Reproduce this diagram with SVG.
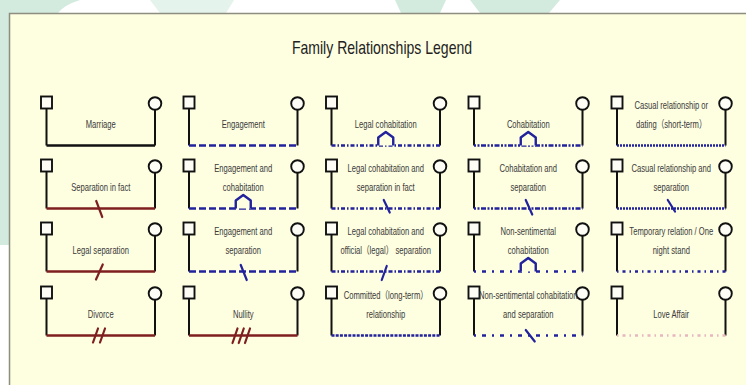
<svg xmlns="http://www.w3.org/2000/svg" width="746" height="385" viewBox="0 0 746 385">
<style>
.sq{fill:#fdfdf6;stroke:#111;stroke-width:1.9}
.v{fill:none;stroke:#111;stroke-width:2}
.h{fill:none;stroke-width:2.6}
.blk{stroke:#111}
.red{stroke:#7e1e1e}
.blue{stroke:#22229c}
.pink{stroke:#e8b6c0}
.mk{fill:none;stroke-width:2.2;stroke-linecap:round}
.house{fill:#fefee1;stroke:#22229c;stroke-width:2.4;stroke-linejoin:round}
.d1{stroke-dasharray:7 3}
.d2{stroke-dasharray:4 2 1.5 2}
.d3{stroke-dasharray:3 1.2}
.d4{stroke-dasharray:2 1.5 2 1.5 5 1.5}
.d5{stroke-dasharray:2 6 4 6}
.d6{stroke-dasharray:2 1}
.d7{stroke-dasharray:1.5 4 3 4}
.lbl{font-family:"Liberation Sans","Noto Sans CJK SC",Arial,sans-serif;font-size:10.3px;fill:#3a3a3a;text-anchor:middle}
.title{font-family:"Liberation Sans",Arial,sans-serif;font-size:18px;fill:#222;text-anchor:middle}
</style>
<rect width="746" height="385" fill="#ffffff"/>
<g id="watermark" fill="#d3ebdf">
<path d="M0,0 H80 Q64,5 58,13 H10 V245 H0 Z"/>
<path d="M150,0 H234 L226,13 H160 Z" fill="#e4f3eb"/>
<path d="M395,0 H446 L440,13 H401 Z"/>
<path d="M470,0 H560 L549,13 H480 Z"/>
</g>
<rect id="panel" x="9.5" y="13.5" width="760" height="400" fill="#fefee1" stroke="#8d8d80" stroke-width="1.5"/>
<text class="title" transform="translate(382,54) scale(0.78,1)">Family Relationships Legend</text>

<g id="nodes">
<g id="marriage"><rect class="sq" x="41" y="96.5" width="11" height="12"/><circle class="sq" cx="155" cy="103.5" r="6.3"/><text class="lbl" transform="translate(100.75,128) scale(0.74,1)">Marriage</text></g>
<g id="separation-in-fact"><rect class="sq" x="41" y="159.5" width="11" height="12"/><circle class="sq" cx="155" cy="166.5" r="6.3"/><text class="lbl" transform="translate(100.75,191) scale(0.74,1)">Separation in fact</text></g>
<g id="legal-separation"><rect class="sq" x="41" y="222.5" width="11" height="12"/><circle class="sq" cx="155" cy="229.5" r="6.3"/><text class="lbl" transform="translate(100.75,254) scale(0.74,1)">Legal separation</text></g>
<g id="divorce"><rect class="sq" x="41" y="286.5" width="11" height="12"/><circle class="sq" cx="155" cy="293.5" r="6.3"/><text class="lbl" transform="translate(100.75,318) scale(0.74,1)">Divorce</text></g>

<g id="engagement"><rect class="sq" x="183.5" y="96.5" width="11" height="12"/><circle class="sq" cx="297.5" cy="103.5" r="6.3"/><text class="lbl" transform="translate(243.25,128) scale(0.74,1)">Engagement</text></g>
<g id="engagement-cohabitation"><rect class="sq" x="183.5" y="159.5" width="11" height="12"/><circle class="sq" cx="297.5" cy="166.5" r="6.3"/><text class="lbl" transform="translate(243.25,171.5) scale(0.74,1)">Engagement and</text><text class="lbl" transform="translate(243.25,191) scale(0.74,1)">cohabitation</text></g>
<g id="engagement-separation"><rect class="sq" x="183.5" y="222.5" width="11" height="12"/><circle class="sq" cx="297.5" cy="229.5" r="6.3"/><text class="lbl" transform="translate(243.25,234.5) scale(0.74,1)">Engagement and</text><text class="lbl" transform="translate(243.25,254) scale(0.74,1)">separation</text></g>
<g id="nullity"><rect class="sq" x="183.5" y="286.5" width="11" height="12"/><circle class="sq" cx="297.5" cy="293.5" r="6.3"/><text class="lbl" transform="translate(243.25,318) scale(0.74,1)">Nullity</text></g>

<g id="legal-cohabitation"><rect class="sq" x="326" y="96.5" width="11" height="12"/><circle class="sq" cx="440" cy="103.5" r="6.3"/><text class="lbl" transform="translate(385.75,128) scale(0.74,1)">Legal cohabitation</text></g>
<g id="legal-cohabitation-separation-fact"><rect class="sq" x="326" y="159.5" width="11" height="12"/><circle class="sq" cx="440" cy="166.5" r="6.3"/><text class="lbl" transform="translate(385.75,171.5) scale(0.74,1)">Legal cohabitation and</text><text class="lbl" transform="translate(385.75,191) scale(0.74,1)">separation in fact</text></g>
<g id="legal-cohabitation-official-separation"><rect class="sq" x="326" y="222.5" width="11" height="12"/><circle class="sq" cx="440" cy="229.5" r="6.3"/><text class="lbl" transform="translate(385.75,234.5) scale(0.74,1)">Legal cohabitation and</text><text class="lbl" transform="translate(385.75,254) scale(0.74,1)">official（legal） separation</text></g>
<g id="committed"><rect class="sq" x="326" y="286.5" width="11" height="12"/><circle class="sq" cx="440" cy="293.5" r="6.3"/><text class="lbl" transform="translate(385.75,298.5) scale(0.74,1)">Committed（long-term）</text><text class="lbl" transform="translate(385.75,318) scale(0.74,1)">relationship</text></g>

<g id="cohabitation"><rect class="sq" x="468.5" y="96.5" width="11" height="12"/><circle class="sq" cx="582.5" cy="103.5" r="6.3"/><text class="lbl" transform="translate(528.25,128) scale(0.74,1)">Cohabitation</text></g>
<g id="cohabitation-separation"><rect class="sq" x="468.5" y="159.5" width="11" height="12"/><circle class="sq" cx="582.5" cy="166.5" r="6.3"/><text class="lbl" transform="translate(528.25,171.5) scale(0.74,1)">Cohabitation and</text><text class="lbl" transform="translate(528.25,191) scale(0.74,1)">separation</text></g>
<g id="non-sentimental-cohabitation"><rect class="sq" x="468.5" y="222.5" width="11" height="12"/><circle class="sq" cx="582.5" cy="229.5" r="6.3"/><text class="lbl" transform="translate(528.25,234.5) scale(0.74,1)">Non-sentimental</text><text class="lbl" transform="translate(528.25,254) scale(0.74,1)">cohabitation</text></g>
<g id="non-sentimental-cohabitation-separation"><rect class="sq" x="468.5" y="286.5" width="11" height="12"/><circle class="sq" cx="582.5" cy="293.5" r="6.3"/><text class="lbl" transform="translate(528.25,298.5) scale(0.74,1)">Non-sentimental cohabitation</text><text class="lbl" transform="translate(528.25,318) scale(0.74,1)">and separation</text></g>

<g id="casual"><rect class="sq" x="611.5" y="96.5" width="11" height="12"/><circle class="sq" cx="725.5" cy="103.5" r="6.3"/><text class="lbl" transform="translate(671.25,108.5) scale(0.74,1)">Casual relationship or</text><text class="lbl" transform="translate(671.25,128) scale(0.74,1)">dating（short-term）</text></g>
<g id="casual-separation"><rect class="sq" x="611.5" y="159.5" width="11" height="12"/><circle class="sq" cx="725.5" cy="166.5" r="6.3"/><text class="lbl" transform="translate(671.25,171.5) scale(0.74,1)">Casual relationship and</text><text class="lbl" transform="translate(671.25,191) scale(0.74,1)">separation</text></g>
<g id="temporary"><rect class="sq" x="611.5" y="222.5" width="11" height="12"/><circle class="sq" cx="725.5" cy="229.5" r="6.3"/><text class="lbl" transform="translate(671.25,234.5) scale(0.74,1)">Temporary relation / One</text><text class="lbl" transform="translate(671.25,254) scale(0.74,1)">night stand</text></g>
<g id="love-affair"><rect class="sq" x="611.5" y="286.5" width="11" height="12"/><circle class="sq" cx="725.5" cy="293.5" r="6.3"/><text class="lbl" transform="translate(671.25,318) scale(0.74,1)">Love Affair</text></g>
</g>

<g id="connectors">
<path class="v" d="M46.5,108.5V145.5M155,109.8V145.5 M46.5,171.5V208.5M155,172.8V208.5 M46.5,234.5V271.5M155,235.8V271.5 M46.5,298.5V335.5M155,299.8V335.5"/>
<path class="v" d="M189,108.5V145.5M297.5,109.8V145.5 M189,171.5V208.5M297.5,172.8V208.5 M189,234.5V271.5M297.5,235.8V271.5 M189,298.5V335.5M297.5,299.8V335.5"/>
<path class="v" d="M331.5,108.5V145.5M440,109.8V145.5 M331.5,171.5V208.5M440,172.8V208.5 M331.5,234.5V271.5M440,235.8V271.5 M331.5,298.5V335.5M440,299.8V335.5"/>
<path class="v" d="M474,108.5V145.5M582.5,109.8V145.5 M474,171.5V208.5M582.5,172.8V208.5 M474,234.5V271.5M582.5,235.8V271.5 M474,298.5V335.5M582.5,299.8V335.5"/>
<path class="v" d="M617,108.5V145.5M725.5,109.8V145.5 M617,171.5V208.5M725.5,172.8V208.5 M617,234.5V271.5M725.5,235.8V271.5 M617,298.5V335.5M725.5,299.8V335.5"/>

<path class="h blk" d="M46.5,145.5H155"/>
<path class="h red" d="M46.5,208.5H155"/>
<path class="mk red" d="M96.25,201L102.25,217"/>
<path class="h red" d="M46.5,271.5H155"/>
<path class="mk red" d="M96,279.5L102.75,264.5"/>
<path class="h red" d="M46.5,335.5H155"/>
<path class="mk red" d="M93,342.5L98,328.5M100,342.5L105,328.5"/>

<path class="h blue d1" d="M189,145.5H297.5"/>
<path class="h blue d1" d="M189,208.5H297.5"/>
<path class="house" d="M235.75,208.5V200.5L243.25,195L250.75,200.5V208.5"/>
<path class="h blue d1" d="M189,271.5H297.5"/>
<path class="mk blue" d="M240.75,265L246.75,280"/>
<path class="h red" d="M189,335.5H297.5"/>
<path class="mk red" d="M232.5,343L237.5,328.5M238.75,343L243.75,328.5M245,343L250,328.5"/>

<path class="h blue d2" d="M331.5,145.5H440"/>
<path class="house" d="M378.25,145.5V137.5L385.75,132L393.25,137.5V145.5"/>
<path class="h blue d2" d="M331.5,208.5H440"/>
<path class="mk blue" d="M383.75,200L389.75,212.5"/>
<path class="h blue d2" d="M331.5,271.5H440"/>
<path class="mk blue" d="M381.75,280L386.75,266"/>
<path class="h blue d3" d="M331.5,335.5H440"/>

<path class="h blue d4" d="M474,145.5H582.5"/>
<path class="house" d="M520.75,145.5V137.5L528.25,132L535.75,137.5V145.5"/>
<path class="h blue d4" d="M474,208.5H582.5"/>
<path class="mk blue" d="M525.75,200L532.25,214.5"/>
<path class="h blue d5" d="M474,271.5H582.5"/>
<path class="house" d="M520.75,271.5V263.5L528.25,258L535.75,263.5V271.5"/>
<path class="h blue d5" d="M474,335.5H582.5"/>
<path class="mk blue" d="M525.75,330L534.75,341.5"/>

<path class="h blue d6" d="M617,145.5H725.5"/>
<path class="h blue d6" d="M617,208.5H725.5"/>
<path class="mk blue" d="M667.75,200L675,211.5"/>
<path class="h blue d7" d="M617,271.5H725.5"/>
<path class="h pink d7" d="M617,335.5H725.5"/>
</g>
</svg>
